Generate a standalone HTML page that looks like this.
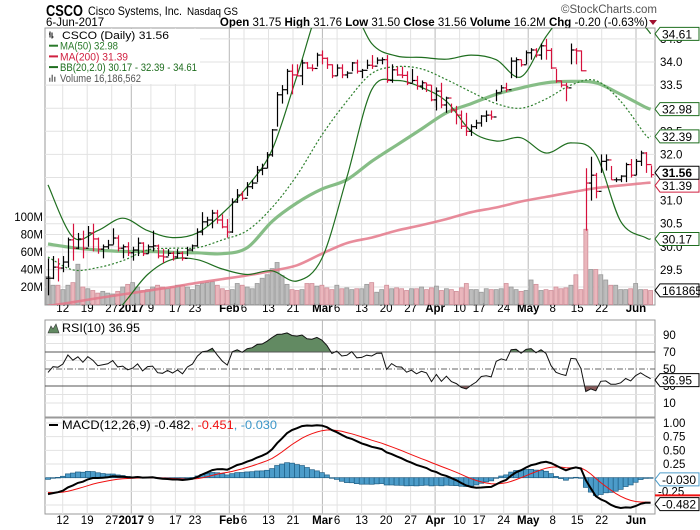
<!DOCTYPE html>
<html><head><meta charset="utf-8">
<style>
html,body{margin:0;padding:0;background:#fff;}
svg{display:block;font-family:"Liberation Sans",sans-serif;}
</style></head>
<body>
<svg id="chart" width="700" height="530" viewBox="0 0 700 530" xmlns="http://www.w3.org/2000/svg">
  <text x="46" y="16" font-size="16" font-weight="bold" textLength="37" lengthAdjust="spacingAndGlyphs">CSCO</text>
  <text x="88" y="15" font-size="12" textLength="94" lengthAdjust="spacingAndGlyphs">Cisco Systems, Inc.</text>
  <text x="187" y="15" font-size="11" textLength="51" lengthAdjust="spacingAndGlyphs">Nasdaq GS</text>
  <text x="46" y="26" font-size="11.5">6-Jun-2017</text>
  <text x="657" y="13" font-size="11.5" fill="#555" text-anchor="end">©StockCharts.com</text>
  <text x="648" y="26" font-size="11.5" text-anchor="end"><tspan font-weight="bold">Open</tspan> 31.75 <tspan font-weight="bold">High</tspan> 31.76 <tspan font-weight="bold">Low</tspan> 31.50 <tspan font-weight="bold">Close</tspan> 31.56 <tspan font-weight="bold">Volume</tspan> 16.2M <tspan font-weight="bold">Chg</tspan> -0.20 (-0.63%)</text>
  <polygon points="649,20 657,20 653,25" fill="#a01030"/>
</svg>
<script>
// ===== data =====
const closes = [29.32,29.56,29.54,29.67,30.15,29.97,30.17,29.97,30.30,30.17,
29.95,30.00,30.04,30.19,29.97,30.00,29.87,29.93,30.08,29.85,
30.00,30.02,29.80,29.78,29.86,29.78,29.86,29.75,29.93,30.02,
30.32,30.54,30.58,30.73,30.58,30.43,30.32,30.97,31.12,31.05,
31.30,31.38,31.66,31.70,31.99,32.53,33.29,33.40,33.80,33.72,
33.70,33.98,33.87,33.86,34.15,34.08,33.94,33.70,33.87,33.72,
33.76,33.98,33.80,33.82,33.93,33.91,34.04,34.05,33.60,33.83,
33.72,33.71,33.54,33.60,33.48,33.55,33.50,33.18,33.37,33.07,
33.22,32.96,32.85,32.61,32.50,32.60,32.68,32.83,32.85,32.81,
33.33,33.44,33.40,34.02,34.05,33.94,34.20,34.26,34.15,34.35,
34.25,33.87,33.59,33.50,33.44,34.26,34.24,33.81,31.38,31.55,
31.20,31.85,31.88,31.45,31.45,31.53,31.78,31.55,31.85,32.03,
31.78,31.56];
const highs = [29.75,29.80,29.75,29.80,30.20,30.50,30.30,30.35,30.45,30.50,
30.20,30.05,30.15,30.40,30.25,30.05,30.10,30.00,30.20,30.10,
30.05,30.35,30.05,29.95,29.95,29.90,29.95,29.90,30.00,30.05,
30.40,30.75,30.65,30.80,30.80,30.70,30.60,31.05,31.25,31.20,
31.40,31.45,31.75,31.80,32.05,32.55,33.35,33.50,33.85,33.95,
33.95,34.05,34.00,33.95,34.20,34.25,34.10,33.95,33.95,33.95,
33.80,34.00,34.05,33.85,34.05,34.15,34.10,34.10,34.15,33.95,
33.90,33.90,33.80,33.85,33.70,33.60,33.55,33.50,33.45,33.55,
33.25,33.10,33.05,32.95,32.90,32.65,32.75,32.85,32.95,32.95,
33.40,33.50,33.55,34.10,34.10,34.05,34.25,34.30,34.30,34.40,
34.50,34.30,33.85,33.60,33.55,34.40,34.30,34.25,31.70,31.95,
31.60,32.00,32.00,31.75,31.50,31.55,31.82,31.90,31.90,32.08,
32.05,31.76];
const lows = [28.95,29.30,29.25,29.45,29.55,29.70,29.95,29.75,30.00,29.90,
29.85,29.75,29.95,30.05,29.90,29.75,29.80,29.70,29.80,29.80,
29.85,29.90,29.75,29.65,29.80,29.70,29.75,29.70,29.80,29.90,
30.00,30.25,30.45,30.40,30.50,30.40,30.20,30.30,30.95,31.00,
31.10,31.25,31.40,31.55,31.70,31.95,32.60,33.10,33.30,33.30,
33.70,33.50,33.85,33.80,33.90,33.95,33.85,33.65,33.70,33.65,
33.65,33.80,33.75,33.65,33.85,33.85,33.95,33.95,33.55,33.55,
33.70,33.65,33.50,33.55,33.40,33.40,33.35,33.15,32.95,33.00,
32.90,32.90,32.65,32.55,32.40,32.40,32.55,32.60,32.70,32.75,
33.15,33.35,33.35,33.65,33.65,33.90,33.95,34.05,34.10,34.05,
34.05,33.85,33.55,33.45,33.15,33.95,33.95,33.80,30.35,31.00,
31.05,31.60,31.65,31.45,31.40,31.40,31.40,31.50,31.55,31.75,
31.60,31.50];
const volumesM = [32,22,22,17,22,25,46,20,18,16,
13,15,13,12,15,20,23,25,20,16,
17,20,22,20,18,20,22,22,20,17,
22,24,25,26,22,18,16,17,24,22,
20,18,24,30,34,41,48,33,23,17,
16,17,24,24,21,22,19,17,22,18,
19,17,18,18,23,25,14,17,22,18,
19,18,16,18,18,20,17,19,21,16,
18,17,15,19,24,17,17,14,18,17,
17,18,24,20,17,15,16,28,23,16,
17,16,20,18,19,22,34,17,86,40,
40,34,28,22,22,17,17,18,24,17,
17,16];
// overlays sampled every 5 sessions (index 0,5,...,120, then 121)
const sampleIdx = [0,5,10,15,20,25,30,35,40,45,50,55,60,65,70,75,80,85,90,95,100,105,110,115,120,121];
const ma50 = [30.06,29.98,29.93,29.90,29.90,29.88,29.87,29.85,29.98,30.55,30.95,31.25,31.45,31.85,32.20,32.55,32.90,33.10,33.30,33.44,33.55,33.58,33.55,33.30,33.02,32.98];
const ma200 = [28.72,28.80,28.89,28.97,29.05,29.13,29.22,29.30,29.38,29.48,29.60,29.85,30.08,30.20,30.35,30.47,30.60,30.75,30.85,30.98,31.08,31.18,31.27,31.33,31.38,31.39];
const bbUpper = [31.34,30.21,30.35,30.62,30.35,30.20,30.30,30.72,31.30,32.10,33.70,35.30,35.40,34.40,34.13,34.10,34.06,34.15,34.05,33.68,34.55,35.20,35.40,35.40,34.75,34.61];
const bbMid = [29.78,29.50,29.55,29.70,29.93,29.97,29.98,30.15,30.35,30.85,31.55,32.42,33.15,33.75,33.90,33.85,33.62,33.35,33.10,33.00,33.20,33.50,33.60,33.15,32.42,32.39];
const bbLower = [27.50,27.60,28.20,28.75,29.40,29.73,29.72,29.52,29.40,29.48,29.26,29.75,31.50,33.40,33.60,33.45,33.15,32.50,32.29,32.36,32.03,32.25,32.00,30.55,30.20,30.17];
const priceTicks = [29.5,30.0,30.5,31.0,31.5,32.0,32.5,33.0,33.5,34.0,34.5];
const volTicks = [20,40,60,80,100];
const volTickLabels = ["20M","40M","60M","80M","100M"];
const rsiTicks = [10,30,50,70,90];
const macdTicks = [1.00,0.75,0.50,0.25,-0.25];
const macdTickLabels = ["1.00","0.75","0.50","0.25","-0.25"];
// calendar session numbers counted from Dec 7, 2016
const dayTickIdx = [3,8,13,21,26,30,40,45,50,59,64,69,74,84,88,93,103,108,113];
const dayTickLabels = ["12","19","27","9","17","23","6","13","21","6","13","20","27","10","17","24","8","15","22"];
const monthTickIdx = [17,37,56,79,98,120];
const monthTickLabels = ["2017","Feb","Mar","Apr","May","Jun"];

// ===== scales =====
const NS = "http://www.w3.org/2000/svg";
const svg = document.getElementById("chart");
const PL = 45, PR = 655;
const xOf = i => 48 + i*4.98;
const xTick = k => 48 + k*4.90;
const yP = p => 62 + (34 - p)*46.2;
const yV = v => 304.5 - v*0.875;
const yR = r => 386 - (r - 30)*0.85;
const yM = m => 477.7 - m*54.7;
function mk(tag, attrs, parent){
  const e = document.createElementNS(NS, tag);
  for (const k in attrs) e.setAttribute(k, attrs[k]);
  (parent||svg).appendChild(e);
  return e;
}
function smoothPath(pts){
  let d = "M"+pts[0][0].toFixed(1)+","+pts[0][1].toFixed(1);
  for (let i=0;i<pts.length-1;i++){
    const p0=pts[Math.max(i-1,0)], p1=pts[i], p2=pts[i+1], p3=pts[Math.min(i+2,pts.length-1)];
    const c1=[p1[0]+(p2[0]-p0[0])/6, p1[1]+(p2[1]-p0[1])/6];
    const c2=[p2[0]-(p3[0]-p1[0])/6, p2[1]-(p3[1]-p1[1])/6];
    d += " C"+c1[0].toFixed(1)+","+c1[1].toFixed(1)+" "+c2[0].toFixed(1)+","+c2[1].toFixed(1)+" "+p2[0].toFixed(1)+","+p2[1].toFixed(1);
  }
  return d;
}
const defs = mk("defs",{});
const cp1 = mk("clipPath",{id:"clipMain"},defs); mk("rect",{x:PL,y:28,width:PR-PL,height:277},cp1);
const cp2 = mk("clipPath",{id:"clipRsiHi"},defs); mk("rect",{x:PL,y:320,width:PR-PL,height:yR(70)-320},cp2);
const cp3 = mk("clipPath",{id:"clipRsiLo"},defs); mk("rect",{x:PL,y:yR(30),width:PR-PL,height:417-yR(30)},cp3);
const cp4 = mk("clipPath",{id:"clipVolTag"},defs); mk("rect",{x:656,y:280,width:44,height:20},cp4);

// ===== panels / grid =====
const panels = [[28,305,"price-panel"],[320,417,"rsi-panel"],[418,514,"macd-panel"]];
panels.forEach(p=>{
  const r = mk("rect",{x:PL,y:p[0],width:PR-PL,height:p[1]-p[0],fill:"#fff",stroke:"#999","stroke-width":1});
  
  
});
const grid = mk("g",{stroke:"#e2e2e2","stroke-width":1});


dayTickIdx.forEach(i=>{ panels.forEach(p=>mk("line",{x1:xTick(i),x2:xTick(i),y1:p[0],y2:p[1]},grid)); });
monthTickIdx.forEach(i=>{ panels.forEach(p=>mk("line",{x1:xTick(i),x2:xTick(i),y1:p[0],y2:p[1],stroke:"#b8b8b8"},grid)); });
priceTicks.forEach(t=>{ if(yP(t)>28 && yP(t)<305) mk("line",{x1:PL,x2:PR,y1:yP(t),y2:yP(t)},grid); });
volTicks.forEach(t=>mk("line",{x1:PL,x2:PR,y1:yV(t),y2:yV(t)},grid));
[10,20,40,60,80,90].forEach(t=>mk("line",{x1:PL,x2:PR,y1:yR(t),y2:yR(t)},grid));
[1.0,0.75,0.5,0.25,0,-0.25,-0.5].forEach(t=>mk("line",{x1:PL,x2:PR,y1:yM(t),y2:yM(t)},grid));

// ===== x axis labels =====
[[312,"top-date-axis"],[524,"bottom-date-axis"]].forEach(a=>{
  const g = mk("g",{"font-size":"11.5"});
  
  
  dayTickIdx.forEach((i,k)=>{
    const t = mk("text",{x:xTick(i),y:a[0],"text-anchor":"middle"},g);
    t.textContent = dayTickLabels[k];
  });
  monthTickIdx.forEach((i,k)=>{
    const t = mk("text",{x:xTick(i),y:a[0],"text-anchor":"middle","font-weight":"bold"},g);
    t.textContent = monthTickLabels[k];
  });
});

// ===== price axis labels =====
const pax = mk("g",{"font-size":"11.5"});


priceTicks.forEach(t=>{ const e = mk("text",{x:660,y:yP(t)+4},pax); e.textContent = t.toFixed(1); });
const vax = mk("g",{"font-size":"11.5","text-anchor":"end"});


volTicks.forEach((t,k)=>{ const e = mk("text",{x:43,y:yV(t)+4},vax); e.textContent = volTickLabels[k]; });

// ===== main plot =====
const main = mk("g",{"clip-path":"url(#clipMain)"});


closes.forEach((c,i)=>{
  const up = i===0 ? true : c >= closes[i-1];
  const b = mk("rect",{x:xOf(i)-2,y:yV(volumesM[i]),width:4,height:304.5-yV(volumesM[i]),fill:up?"#bdbdbd":"#eab6bc",stroke:up?"#9a9a9a":"#d0909a","stroke-width":0.8},main);
  
  
});
function overlay(arr, attrs, name){
  const pts = sampleIdx.map((i,k)=>[xOf(i), yP(arr[k])]);
  const a = Object.assign({d:smoothPath(pts),fill:"none"},attrs);
  const e = mk("path",a,main);
  
  
}
overlay(ma200,{stroke:"#e4788a","stroke-width":2.6,"stroke-opacity":0.85},"ma200-line");
overlay(ma50,{stroke:"#86bd86","stroke-width":3.2},"ma50-line");
overlay(bbUpper,{stroke:"#1f6e1f","stroke-width":1.2},"bb-upper-band");
overlay(bbLower,{stroke:"#1f6e1f","stroke-width":1.2},"bb-lower-band");
overlay(bbMid,{stroke:"#2e802e","stroke-width":1.2,"stroke-dasharray":"2,2"},"bb-middle-band");
closes.forEach((c,i)=>{
  const up = i===0 ? true : c >= closes[i-1];
  const col = up ? "#000" : "#d6103c";
  const o = i===0 ? c : closes[i-1];
  const x = Math.round(xOf(i))+0.5;
  const g = mk("g",{stroke:col,"stroke-width":1.2},main);
  
  
  mk("line",{x1:x,x2:x,y1:yP(highs[i]),y2:yP(lows[i])},g);
  mk("line",{x1:x-2.5,x2:x,y1:yP(o),y2:yP(o)},g);
  mk("line",{x1:x,x2:x+2.5,y1:yP(c),y2:yP(c)},g);
});

// ===== legend =====
const lg = mk("g",{"font-size":"11"});


mk("rect",{x:46,y:29,width:154,height:55,fill:"#fff"},lg);
const leg = [["CSCO (Daily) 31.56","#000",null,107],["MA(50) 32.98","#2a7a2a","#2a7a2a",58],["MA(200) 31.39","#d02040","#d02040",68],["BB(20,2.0) 30.17 - 32.39 - 34.61","#1f6e1f","#1f6e1f",137],["Volume 16,186,562","#555",null,81]];
leg.forEach((l,k)=>{
  const y = 39 + k*10.7;
  if (l[2]) mk("line",{x1:49,x2:58,y1:y-4,y2:y-4,stroke:l[2],"stroke-width":2},lg);
  else if (k===0){ mk("path",{d:"M50,30.5v6M49,33h1M52,31.5v6M52,36h1.5",stroke:"#000","stroke-width":1,fill:"none",transform:"translate(0,"+(y-38)+")"},lg); }
  else { mk("path",{d:"M49,"+(y)+"v-4h1.5v4zM51.5,"+y+"v-7h1.5v7zM54,"+y+"v-5h1.5v5z",fill:"#777"},lg); }
  const t = mk("text",{x:(k===0)?62:60,y:y,fill:l[1],textLength:l[3],lengthAdjust:"spacingAndGlyphs"},lg);
  t.textContent = l[0];
});

// ===== value tags =====
function tag(y, text, col, name, bold, clip){
  const g = mk("g",{});
  
  
  mk("path",{d:"M655,"+y+" l5,-6.5 h39 v13 h-39 z",fill:"#fff",stroke:col,"stroke-width":1},g);
  const t = mk("text",{x:662,y:y+4.5,"font-size":"12","font-weight":bold?"bold":"normal",fill:"#000"},g);
  if (clip) t.setAttribute("clip-path","url(#clipVolTag)");
  t.textContent = text;
}
tag(yP(34.61),"34.61","#1f6e1f","bb-upper-tag");
tag(yP(32.98),"32.98","#1f6e1f","ma50-tag");
tag(yP(32.39),"32.39","#1f6e1f","bb-middle-tag");
tag(yP(31.39)+3,"31.39","#d02040","ma200-tag");
tag(yP(31.56)-2,"31.56","#000","close-tag",true);
tag(yP(30.17),"30.17","#1f6e1f","bb-lower-tag");
tag(yV(16.2),"16186562","#000","volume-tag",false,true);

// ===== RSI =====
const rsi = [];
let ag = 0.085, al = 0.1;
rsi.push(100 - 100/(1+ag/al));
for (let i=1;i<closes.length;i++){
  const ch = closes[i]-closes[i-1];
  ag = (ag*9 + Math.max(ch,0))/10;
  al = (al*9 + Math.max(-ch,0))/10;
  rsi.push(100 - 100/(1+ag/al));
}
const rsiPts = rsi.map((r,i)=>[xOf(i),yR(r)]);
const rsiLineD = "M"+rsiPts.map(p=>p[0].toFixed(1)+","+p[1].toFixed(1)).join(" L");
const last = rsiPts.length-1;
const hiArea = mk("path",{d:rsiLineD+" L"+rsiPts[last][0]+","+yR(70)+" L"+rsiPts[0][0]+","+yR(70)+"Z",fill:"#628a62","clip-path":"url(#clipRsiHi)"});


const loArea = mk("path",{d:rsiLineD+" L"+rsiPts[last][0]+","+yR(30)+" L"+rsiPts[0][0]+","+yR(30)+"Z",fill:"#8a5c5c","clip-path":"url(#clipRsiLo)"});


mk("line",{x1:PL,x2:PR,y1:yR(70),y2:yR(70),stroke:"#555"});
mk("line",{x1:PL,x2:PR,y1:yR(30),y2:yR(30),stroke:"#555"});
mk("line",{x1:PL,x2:PR,y1:yR(50),y2:yR(50),stroke:"#666","stroke-dasharray":"6,2,1,2"});
const rl = mk("path",{d:rsiLineD,fill:"none",stroke:"#111","stroke-width":1});


const rax = mk("g",{"font-size":"11.5"});


rsiTicks.forEach(t=>{ const e = mk("text",{x:663,y:yR(t)+4},rax); e.textContent = String(t); });
tag(yR(36.95),"36.95","#000","rsi-value-tag");
const rlg = mk("g",{});


mk("path",{d:"M48,333 l3,-7 l2,3 l3,-5 l3,9 z",fill:"#628a62",stroke:"#333","stroke-width":0.6},rlg);
const rt = mk("text",{x:62,y:332,"font-size":"11.5",textLength:78,lengthAdjust:"spacingAndGlyphs"},rlg); rt.textContent = "RSI(10) 36.95";

// ===== MACD =====
const macd = [], signal = [];
let e12 = 29.60, e26 = 29.90, sig = -0.27;
const k12 = 2/13, k26 = 2/27, k9 = 2/10;
closes.forEach((c,i)=>{
  if (i>0){ e12 = c*k12 + e12*(1-k12); e26 = c*k26 + e26*(1-k26); }
  const m = e12 - e26;
  if (i>0) sig = m*k9 + sig*(1-k9);
  macd.push(m); signal.push(sig);
});
const hg = mk("g",{fill:"#4c9cc9",stroke:"#1f5f85","stroke-width":0.7});


macd.forEach((m,i)=>{
  const h = m - signal[i];
  const y0 = yM(0), y1 = yM(h);
  const b = mk("rect",{x:xOf(i)-2.5,y:Math.min(y0,y1),width:5,height:Math.max(Math.abs(y1-y0),0.6)},hg);
  
  
});
const sl = mk("path",{d:"M"+signal.map((s,i)=>xOf(i).toFixed(1)+","+yM(s).toFixed(1)).join(" L"),fill:"none",stroke:"#f01010","stroke-width":1});


const ml = mk("path",{d:"M"+macd.map((m,i)=>xOf(i).toFixed(1)+","+yM(m).toFixed(1)).join(" L"),fill:"none",stroke:"#000","stroke-width":2});


const max = mk("g",{"font-size":"11.5"});


macdTicks.forEach((t,k)=>{ const e = mk("text",{x:t<0?658:663,y:yM(t)+4},max); e.textContent = macdTickLabels[k]; });
tag(yM(-0.03),"-0.030","#4c9cc9","macd-histogram-tag");
mk("line",{x1:655,x2:700,y1:yM(-0.451)-7,y2:yM(-0.451)-7,stroke:"#f01010","stroke-width":2});
tag(yM(-0.482),"-0.482","#000","macd-value-tag");
const mlg = mk("g",{});


mk("line",{x1:49,x2:58,y1:425,y2:425,stroke:"#000","stroke-width":2},mlg);
const mt = mk("text",{x:62,y:429,"font-size":"11.5",textLength:215,lengthAdjust:"spacingAndGlyphs"},mlg);
mt.innerHTML = 'MACD(12,26,9) -0.482<tspan fill="#f01010">, -0.451</tspan><tspan fill="#3a95c8">, -0.030</tspan>';
</script>
</body></html>
